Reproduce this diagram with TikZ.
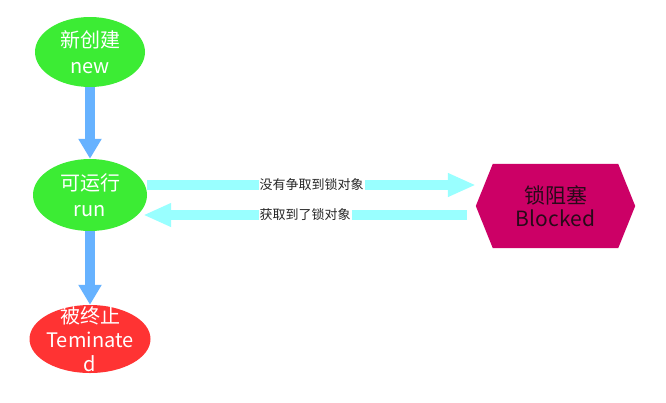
\documentclass[tikz,border=0pt]{standalone}
\usepackage{fontspec}
\setmainfont{Noto Sans CJK SC}
\usetikzlibrary{arrows.meta,backgrounds,shapes.geometric}
\definecolor{stgreen}{RGB}{60,236,52}
\definecolor{stred}{RGB}{255,51,51}
\definecolor{stmag}{RGB}{204,0,102}
\definecolor{stblue}{RGB}{102,178,255}
\definecolor{stcyan}{RGB}{153,255,255}
\definecolor{sttext}{RGB}{40,10,25}
\begin{document}
\begin{tikzpicture}[x=1pt,y=-1pt,
  state/.style={ellipse, inner sep=0pt},
  statetext/.style={text=white, align=center, font=\fontsize{20}{26}\selectfont},
  varrow/.style={draw=stblue, line width=10pt, -{Triangle[width=22pt,length=20pt]}},
  harrow/.style={draw=stcyan, line width=10pt, -{Triangle[width=22pt,length=28pt]}},
  arrlabel/.style={fill=white, inner sep=1pt, text=black!85, font=\fontsize{13}{15}\selectfont}
]
\useasboundingbox (0,0) rectangle (666,402);

\node[state, fill=stgreen, minimum width=110pt, minimum height=70pt,
  label={[statetext]center:新创建\\new}] (new) at (90,52) {};
\node[state, fill=stgreen, minimum width=114pt, minimum height=72pt,
  label={[statetext]center:可运行\\run}] (run) at (90,195) {};
\node[state, fill=stred, minimum width=121pt, minimum height=68pt,
  label={[statetext, font=\fontsize{20}{24}\selectfont]center:被终止\\Teminate\\d}] (term) at (90,339) {};

\node[minimum width=159pt, minimum height=84pt, inner sep=0pt, align=center,
  text=sttext, font=\fontsize{21}{23}\selectfont] (blk) at (555.5,206) {锁阻塞\\Blocked};
\begin{pgfonlayer}{background}
\fill[white] (0,0) rectangle (666,402);
\fill[stmag] (blk.west) -- ([xshift=17pt]blk.north west) -- ([xshift=-17pt]blk.north east)
  -- (blk.east) -- ([xshift=-17pt]blk.south east) -- ([xshift=17pt]blk.south west) -- cycle;
\end{pgfonlayer}

\draw[varrow] (new.south) -- (run.north);
\draw[varrow] (run.south) -- (term.north);

\draw[harrow] ([yshift=10pt]run.east) -- ([yshift=21pt]blk.west)
  node[midway, arrlabel] {没有争取到锁对象};
\draw[harrow] ([xshift=-9pt,yshift=-9pt]blk.west) -- ([xshift=-4pt,yshift=-20pt]run.east)
  node[midway, arrlabel] {获取到了锁对象};
\end{tikzpicture}
\end{document}
